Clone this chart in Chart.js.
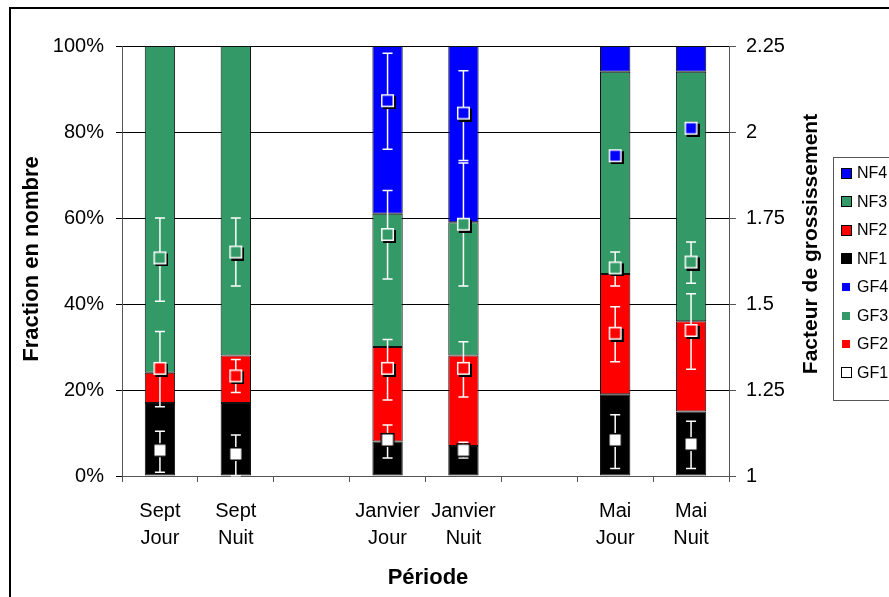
<!DOCTYPE html>
<html lang="fr">
<head>
    <meta charset="UTF-8">
    <title>Fraction en nombre et facteur de grossissement</title>
    <script src="https://cdn.jsdelivr.net/npm/chart.js"></script>
    <style>
        body {
            margin: 0;
            background: #ffffff;
            font-family: Arial, "Liberation Sans", sans-serif;
        }
        #wrap {
            position: relative;
            width: 889px;
            height: 597px;
        }
        #legend {
            position: absolute;
            left: 833px;
            top: 157px;
            width: 80px;
            height: 244px;
            border: 1px solid #555;
            box-sizing: border-box;
        }
        .item {
            position: absolute;
            left: 0;
            height: 20px;
            font-size: 16px;
            line-height: 20px;
            color: #000;
        }
        .item span.mk {
            position: absolute;
            box-sizing: border-box;
        }
        .item span.txt {
            position: absolute;
            left: 23px;
            top: 0;
        }
    </style>
</head>
<body>
<div id="wrap">
    <canvas id="chart" width="889" height="597"></canvas>
    <div id="legend"></div>
</div>
<script>
    // categories (empty ones are the gaps between months)
    const labels = [['Sept', 'Jour'], ['Sept', 'Nuit'], '', ['Janvier', 'Jour'], ['Janvier', 'Nuit'], '', ['Mai', 'Jour'], ['Mai', 'Nuit']];

    // fraction en nombre (%)
    const NF1 = [17, 17, null, 8, 7, null, 19, 15];
    const NF2 = [7, 11, null, 22, 21, null, 28, 21];
    const NF3 = [76, 72, null, 31, 31, null, 47, 58];
    const NF4 = [0, 0, null, 39, 41, null, 6, 6];

    // facteur de grossissement + barres d'erreur
    const GF1 = [1.075, 1.064, null, 1.105, 1.075, null, 1.105, 1.093];
    const GF1lo = [1.011, 1.001, null, 1.052, 1.052, null, 1.022, 1.022];
    const GF1hi = [1.130, 1.119, null, 1.148, 1.098, null, 1.178, 1.159];
    const GF2 = [1.313, 1.291, null, 1.313, 1.313, null, 1.415, 1.423];
    const GF2lo = [1.201, 1.243, null, 1.221, 1.230, null, 1.332, 1.310];
    const GF2hi = [1.420, 1.339, null, 1.397, 1.390, null, 1.492, 1.530];
    const GF3 = [1.634, 1.651, null, 1.702, 1.732, null, 1.605, 1.622];
    const GF3lo = [1.508, 1.552, null, 1.573, 1.552, null, 1.552, 1.560];
    const GF3hi = [1.750, 1.750, null, 1.830, 1.910, null, 1.651, 1.680];
    const GF4 = [null, null, null, 2.091, 2.055, null, 1.931, 2.011];
    const GF4lo = [null, null, null, 1.950, 1.917, null, null, null];
    const GF4hi = [null, null, null, 2.229, 2.178, null, null, null];

    const BLACK = '#000000', RED = '#ff0000', GREEN = '#339966', BLUE = '#0000ff';
    const FONT = 'Arial, "Liberation Sans", sans-serif';

    // carré avec ombre portée, comme dans Excel
    function makeMarker(fill, stroke, size, shadow) {
        const off = 2;
        const c = document.createElement('canvas');
        c.width = size + 2 * off;
        c.height = size + 2 * off;
        const g = c.getContext('2d');
        if (shadow) {
            g.fillStyle = '#000';
            g.fillRect(2 * off, 2 * off, size, size);
        }
        g.fillStyle = fill;
        g.fillRect(off, off, size, size);
        g.strokeStyle = stroke;
        g.lineWidth = 1.5;
        g.strokeRect(off + 0.75, off + 0.75, size - 1.5, size - 1.5);
        return c;
    }

    function barSet(label, data, color) {
        return {
            type: 'bar', label: label, data: data, backgroundColor: color,
            borderColor: '#111', borderWidth: 1, borderSkipped: false,
            yAxisID: 'y', order: 2,
            barPercentage: 0.4, categoryPercentage: 1
        };
    }

    function pointSet(label, data, lo, hi, marker) {
        return {
            type: 'line', label: label, data: data, lo: lo, hi: hi,
            showLine: false, yAxisID: 'y2', order: 1,
            pointStyle: marker, pointRadius: 7, pointHoverRadius: 7,
            borderColor: 'transparent', backgroundColor: 'transparent'
        };
    }

    // barres d'erreur dessinées juste avant les marqueurs
    const errorBars = {
        id: 'errorBars',
        beforeDatasetDraw(chart, args) {
            const ds = chart.data.datasets[args.index];
            if (!ds.lo) return;
            const ctx = chart.ctx;
            const x = chart.scales.x, y = chart.scales.y2;
            ctx.save();
            ctx.strokeStyle = '#ffffff';
            ctx.lineWidth = 1.5;
            ds.data.forEach((v, i) => {
                if (v === null || ds.lo[i] === null) return;
                const px = x.getPixelForValue(i);
                const yl = y.getPixelForValue(ds.lo[i]);
                const yh = y.getPixelForValue(ds.hi[i]);
                ctx.beginPath();
                ctx.moveTo(px, yl); ctx.lineTo(px, yh);
                ctx.moveTo(px - 5, yl); ctx.lineTo(px + 5, yl);
                ctx.moveTo(px - 5, yh); ctx.lineTo(px + 5, yh);
                ctx.stroke();
            });
            ctx.restore();
        }
    };

    // titres des axes et cadre extérieur
    const titles = {
        id: 'titles',
        afterDraw(chart) {
            const ctx = chart.ctx;
            const a = chart.chartArea;
            ctx.save();
            ctx.strokeStyle = '#000';
            ctx.lineWidth = 2;
            ctx.beginPath();
            ctx.moveTo(10, 597); ctx.lineTo(10, 8); ctx.lineTo(889, 8);
            ctx.stroke();

            ctx.fillStyle = '#000';
            ctx.font = 'bold 22px ' + FONT;
            ctx.textAlign = 'center';
            ctx.textBaseline = 'middle';
            ctx.fillText('Période', 428, 578);

            ctx.save();
            ctx.translate(32, 259);
            ctx.rotate(-Math.PI / 2);
            ctx.fillText('Fraction en nombre', 0, 0);
            ctx.restore();

            ctx.font = 'bold 21px ' + FONT;
            ctx.save();
            ctx.translate(811, 244);
            ctx.rotate(-Math.PI / 2);
            ctx.fillText('Facteur de grossissement', 0, 0);
            ctx.restore();
            ctx.restore();
        }
    };

    const ctx = document.getElementById('chart').getContext('2d');
    const chart = new Chart(ctx, {
        data: {
            labels: labels,
            datasets: [
                barSet('NF1', NF1, BLACK),
                barSet('NF2', NF2, RED),
                barSet('NF3', NF3, GREEN),
                barSet('NF4', NF4, BLUE),
                pointSet('GF1', GF1, GF1lo, GF1hi, makeMarker('#ffffff', '#000000', 14, false)),
                pointSet('GF2', GF2, GF2lo, GF2hi, makeMarker(RED, '#ffffff', 13, true)),
                pointSet('GF3', GF3, GF3lo, GF3hi, makeMarker(GREEN, '#ffffff', 13, true)),
                pointSet('GF4', GF4, GF4lo, GF4hi, makeMarker(BLUE, '#ffffff', 13, true))
            ]
        },
        options: {
            responsive: false,
            animation: false,
            layout: { padding: { left: 10, top: 46, right: 0, bottom: 0 } },
            plugins: {
                legend: { display: false },
                tooltip: { enabled: false }
            },
            scales: {
                x: {
                    stacked: true,
                    grid: { drawOnChartArea: false, tickLength: 6, color: '#555', offset: true },
                    border: { color: '#555' },
                    ticks: {
                        font: { family: FONT, size: 20, lineHeight: 1.35 },
                        color: '#000', maxRotation: 0, autoSkip: false, padding: 16
                    },
                    afterFit: s => { s.height = 121; }
                },
                y: {
                    stacked: true, min: 0, max: 100,
                    grid: { color: '#000', tickLength: 6 },
                    border: { color: '#555' },
                    ticks: {
                        stepSize: 20, callback: v => v + '%',
                        font: { family: FONT, size: 20 }, color: '#000', padding: 12
                    },
                    afterFit: s => { s.width = 112; }
                },
                y2: {
                    position: 'right', min: 1, max: 2.25,
                    grid: { drawOnChartArea: false, tickLength: 7, color: '#555' },
                    border: { color: '#555' },
                    ticks: {
                        stepSize: 0.25, callback: v => String(Math.round(v * 100) / 100),
                        font: { family: FONT, size: 20 }, color: '#000', padding: 10
                    },
                    afterFit: s => { s.width = 160; }
                }
            }
        },
        plugins: [errorBars, titles]
    });

    // légende HTML, même ordre que l'original
    const legendItems = [
        { t: 'NF4', c: BLUE, s: 11, b: true },
        { t: 'NF3', c: GREEN, s: 11, b: true },
        { t: 'NF2', c: RED, s: 11, b: true },
        { t: 'NF1', c: BLACK, s: 11, b: true },
        { t: 'GF4', c: BLUE, s: 8, b: false },
        { t: 'GF3', c: GREEN, s: 8, b: false },
        { t: 'GF2', c: RED, s: 8, b: false },
        { t: 'GF1', c: '#ffffff', s: 11, b: true }
    ];
    const legend = document.getElementById('legend');
    legendItems.forEach((it, i) => {
        const row = document.createElement('div');
        row.className = 'item';
        row.style.top = (5 + i * 28.5) + 'px';
        const mk = document.createElement('span');
        mk.className = 'mk';
        mk.style.width = it.s + 'px';
        mk.style.height = it.s + 'px';
        mk.style.left = (12 - it.s / 2) + 'px';
        mk.style.top = (10 - it.s / 2) + 'px';
        mk.style.background = it.c;
        if (it.b) mk.style.border = '1px solid #000';
        const txt = document.createElement('span');
        txt.className = 'txt';
        txt.textContent = it.t;
        row.appendChild(mk);
        row.appendChild(txt);
        legend.appendChild(row);
    });
</script>
</body>
</html>
